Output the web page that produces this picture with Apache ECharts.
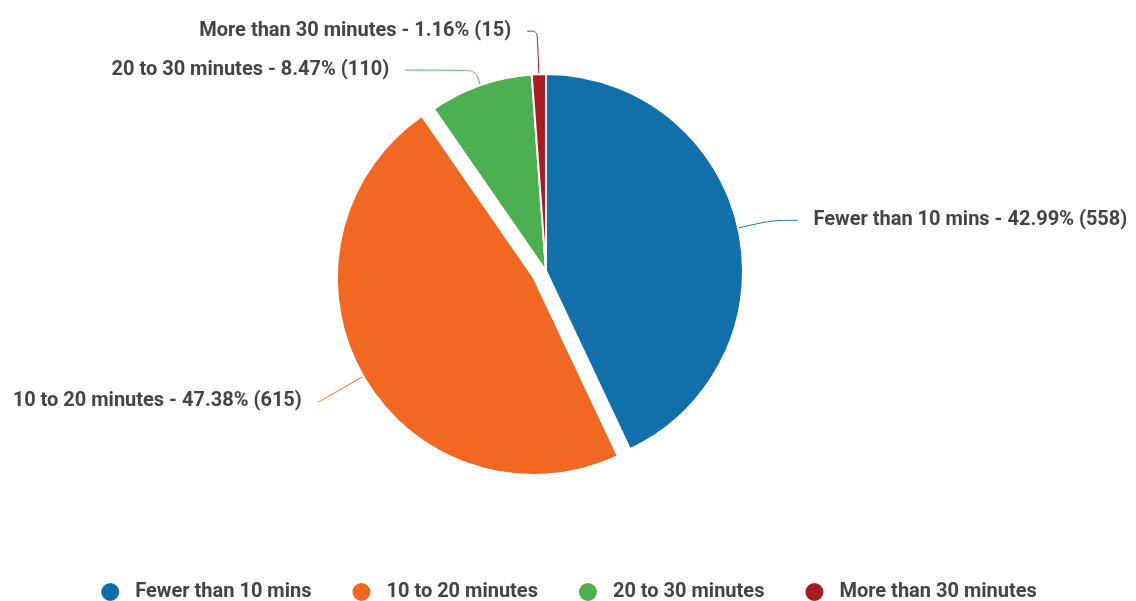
<!DOCTYPE html>
<html>
<head>
<meta charset="utf-8">
<script src="https://cdn.jsdelivr.net/npm/echarts@6/dist/echarts.min.js"></script>
<style>
  html, body { margin: 0; padding: 0; background: #fff; }
  #chart { width: 1136px; height: 601px; }
</style>
</head>
<body>
<div id="chart"></div>
<script>
  // travel time categories and counts
  const categories = ['Fewer than 10 mins', '10 to 20 minutes', '20 to 30 minutes', 'More than 30 minutes'];
  const counts = [558, 615, 110, 15];
  const colorList = ['#1170aa', '#f26722', '#4caf50', '#a91d22'];
  // label line lengths per slice [length, length2]
  const lineLens = [[35, 25], [50, 2], [16, 70], [43, 10]];

  const myChart = echarts.init(document.getElementById('chart'));
  window.onresize = myChart.resize;

  const seriesData = categories.map((name, i) => ({
    name: name,
    value: counts[i],
    selected: i === 1,
    itemStyle: { color: colorList[i] },
    labelLine: { length: lineLens[i][0], length2: lineLens[i][1] }
  }));

  const option = {
    textStyle: { fontFamily: 'Roboto' },
    legend: {
      data: categories,
      top: 581,
      left: 'center',
      padding: 0,
      icon: 'circle',
      itemWidth: 20,
      itemHeight: 20,
      itemGap: 39,
      textStyle: { color: '#444', fontSize: 20, fontWeight: 'bold', fontFamily: 'Roboto', padding: [0, 0, 0, 10] }
    },
    series: [{
      type: 'pie',
      center: [546, 271],
      radius: 197,
      startAngle: 90,
      selectedMode: 'single',
      selectedOffset: 14,
      itemStyle: { borderColor: '#fff', borderWidth: 2 },
      emphasis: { disabled: true },
      label: {
        formatter: '{b} - {d}% ({c})',
        color: '#444',
        fontSize: 20,
        fontWeight: 'bold',
        fontFamily: 'Roboto',
        overflow: 'none',
        edgeDistance: 0,
        distanceToLabelLine: 16
      },
      labelLine: {
        smooth: 0.3,
        lineStyle: { width: 1 }
      },
      data: seriesData
    }]
  };
  myChart.setOption(option);
</script>
</body>
</html>
